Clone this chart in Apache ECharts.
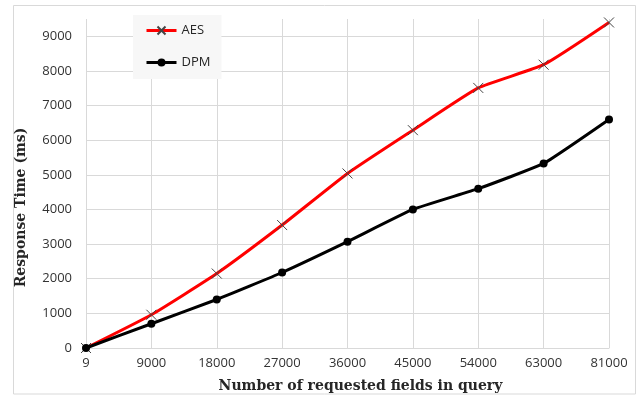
<!doctype html>
<html lang="en">
<head>
  <meta charset="UTF-8">
  <title>Response Time</title>
  <script src="https://cdn.jsdelivr.net/npm/echarts@6/dist/echarts.min.js"></script>
  <style>
    html, body { margin: 0; padding: 0; background: #fff; }
    #chart { width: 639px; height: 400px; }
  </style>
</head>
<body>
<div id="chart"></div>
<script>
  // fields requested per query
  var fields = ['9', '9000', '18000', '27000', '36000', '45000', '54000', '63000', '81000'];
  var aesTime = [0, 960, 2150, 3550, 5040, 6290, 7510, 8180, 9400];
  var dpmTime = [0, 700, 1400, 2180, 3070, 4000, 4600, 5330, 6600];
  var yTicks = [0, 1000, 2000, 3000, 4000, 5000, 6000, 7000, 8000, 9000];

  var gridColor = '#d9d9d9';
  var labelFont = { color: '#333', fontFamily: 'Open Sans', fontSize: 13 };
  var crossPath = 'path://M0,0L10,10M10,0L0,10';

  var chart = echarts.init(document.getElementById('chart'));
  var option = {
    animation: false,
    backgroundColor: '#fff',
    graphic: [{
      type: 'rect',
      shape: { x: 13.5, y: 5.5, width: 622, height: 388.5 },
      style: { fill: 'none', stroke: gridColor, lineWidth: 1 },
      silent: true
    }],
    legend: {
      left: 133,
      top: 15,
      orient: 'vertical',
      backgroundColor: '#f7f7f7',
      padding: [9, 11, 10, 12],
      itemWidth: 30,
      itemHeight: 10,
      itemGap: 19,
      lineStyle: { width: 3 },
      textStyle: { color: '#262626', fontFamily: 'Open Sans', fontSize: 13 },
      data: ['AES', 'DPM']
    },
    grid: [
      { left: 86, right: 30, top: 19, bottom: 52 },
      { left: 86, right: 30, top: 36.3, bottom: 52 }
    ],
    xAxis: [{
      type: 'category',
      gridIndex: 0,
      data: fields,
      boundaryGap: false,
      axisLine: { show: true, lineStyle: { color: gridColor } },
      axisTick: { show: false },
      splitLine: { show: true, lineStyle: { color: gridColor } },
      axisLabel: Object.assign({ margin: 9 }, labelFont),
      name: 'Number of requested fields in query',
      nameLocation: 'middle',
      nameGap: 31,
      nameTextStyle: {
        color: '#262626', fontFamily: 'DejaVu Serif', fontWeight: 'bold', fontSize: 14,
        padding: [0, 0, 0, 26]
      }
    }, {
      type: 'category',
      gridIndex: 1,
      data: fields,
      show: false
    }],
    yAxis: [{
      type: 'value',
      gridIndex: 0,
      min: 0,
      max: 9500,
      axisLine: { show: false },
      axisTick: { show: false },
      axisLabel: { show: false },
      splitLine: { show: false },
      name: 'Response Time (ms)',
      nameLocation: 'middle',
      nameGap: 58,
      nameTextStyle: {
        color: '#262626', fontFamily: 'DejaVu Serif', fontWeight: 'bold', fontSize: 14,
        padding: [0, 48, 0, 0]
      }
    }, {
      type: 'value',
      gridIndex: 1,
      min: yTicks[0],
      max: yTicks[yTicks.length - 1],
      interval: 1000,
      axisLine: { show: false },
      axisTick: { show: false },
      splitLine: { show: true, lineStyle: { color: gridColor } },
      axisLabel: Object.assign({
        margin: 14,
        formatter: function (v) { return String(v); }
      }, labelFont)
    }],
    series: [{
      name: 'AES',
      type: 'line',
      xAxisIndex: 0,
      yAxisIndex: 0,
      data: aesTime,
      smooth: 0.15,
      symbol: crossPath,
      symbolSize: 10,
      showAllSymbol: true,
      lineStyle: { color: '#ff0000', width: 3 },
      itemStyle: { color: '#444', borderColor: '#444', borderWidth: 1 }
    }, {
      name: 'DPM',
      type: 'line',
      xAxisIndex: 0,
      yAxisIndex: 0,
      data: dpmTime,
      smooth: 0.12,
      symbol: 'circle',
      symbolSize: 8,
      showAllSymbol: true,
      lineStyle: { color: '#000', width: 3 },
      itemStyle: { color: '#000' }
    }]
  };
  chart.setOption(option);
</script>
</body>
</html>
